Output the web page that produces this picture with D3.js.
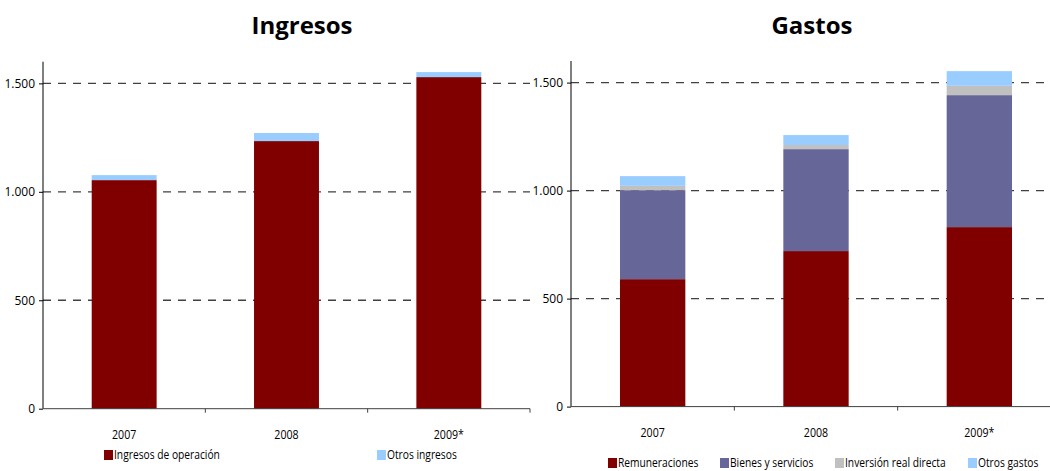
<!DOCTYPE html>
<html>
<head>
<meta charset="utf-8">
<script src="https://cdn.jsdelivr.net/npm/d3@7"></script>
<style>
  html, body { margin: 0; padding: 0; background: #fff; }
  svg { display: block; }
  text { font-family: "Open Sans", "Liberation Sans", sans-serif; fill: #000; }
  .title { font-weight: bold; }
</style>
</head>
<body>
<svg id="chart" width="1050" height="471"></svg>
<script>
// Years shown on both panels
const years = ["2007", "2008", "2009*"];

// Ingresos (income) series
const ingresosOperacion = [1054, 1234, 1529];
const otrosIngresos = [23, 37, 23];

// Gastos (expenditure) series
const remuneraciones = [590, 720, 831];
const bienesServicios = [412, 472, 611];
const inversionReal = [20, 19, 43];
const otrosGastos = [45, 46, 68];

// Shared value axis ticks
const yTicks = [0, 500, 1000, 1500];
const fmt = v => d3.format(",")(v).replace(/,/g, ".");

const svg = d3.select("#chart");

// condensed text: drawn at the anchor point, squeezed horizontally
function narrowText(sel, x, y, str, size, anchor, squeeze) {
  const t = sel.append("g").attr("transform", `translate(${x},${y}) scale(${squeeze},1)`)
    .append("text").attr("font-size", size).attr("text-anchor", anchor).attr("dy", "0.35em").text(str);
  return t;
}

function panel(cfg) {
  const { left, right, top, bottom, title, titleX, series } = cfg;
  const g = svg.append("g");

  const x = d3.scaleBand().domain(years).range([left, right]).paddingInner(0.6).paddingOuter(0.3);
  const y = d3.scaleLinear().domain([0, 1600]).range([bottom, top]);

  // dashed gridlines
  g.append("g").selectAll("line").data(yTicks.filter(d => d > 0)).join("line")
    .attr("x1", left).attr("x2", right)
    .attr("y1", d => y(d)).attr("y2", d => y(d))
    .attr("stroke", "#404040").attr("stroke-width", 1.3)
    .attr("stroke-dasharray", "8,7");

  // stacked bars
  const rows = years.map((yr, i) => {
    const o = { year: yr };
    series.forEach(s => o[s.key] = s.values[i]);
    return o;
  });
  const stack = d3.stack().keys(series.map(s => s.key))(rows);
  g.append("g").selectAll("g").data(stack).join("g")
    .attr("fill", (d, i) => series[i].color)
    .selectAll("rect").data(d => d).join("rect")
    .attr("x", d => x(d.data.year))
    .attr("width", x.bandwidth())
    .attr("y", d => y(d[1]))
    .attr("height", d => y(d[0]) - y(d[1]));

  // value axis
  const ya = d3.axisLeft(y).tickValues(yTicks).tickFormat(fmt).tickSize(4).tickPadding(4);
  const yg = g.append("g").attr("transform", `translate(${left},0)`).call(ya);
  yg.select(".domain").attr("stroke", "#000").attr("d", `M-0,${top}V${bottom}`);
  yg.selectAll(".tick line").attr("stroke", "#000");
  yg.selectAll("text").attr("font-size", 12).attr("font-family", "DejaVu Sans Condensed, DejaVu Sans, sans-serif");

  // category axis with ticks between categories
  g.append("line").attr("x1", left).attr("x2", right).attr("y1", bottom).attr("y2", bottom)
    .attr("stroke", "#404040").attr("stroke-width", 1);
  const step = (right - left) / years.length;
  g.append("g").selectAll("line").data(d3.range(1, years.length + 1)).join("line")
    .attr("x1", i => left + i * step).attr("x2", i => left + i * step)
    .attr("y1", bottom).attr("y2", bottom + 4)
    .attr("stroke", "#404040");
  const cats = g.append("g");
  years.forEach(d => narrowText(cats, x(d) + x.bandwidth() / 2, bottom + 26, d, 12.5, "middle", 0.85));

  // title
  g.append("text").attr("class", "title")
    .attr("x", titleX).attr("y", 34).attr("text-anchor", "middle")
    .attr("font-size", 24).text(title);

  // legend
  const lg = g.append("g").selectAll("g").data(series).join("g")
    .attr("transform", s => `translate(${s.lx},${cfg.legendY})`);
  lg.append("rect").attr("x", 0).attr("y", -5).attr("width", 9).attr("height", 10).attr("fill", s => s.color);
  lg.each(function (s) { narrowText(d3.select(this), 10, 0, s.label, 12.5, "start", 0.82); });
}

panel({
  left: 43, right: 530, top: 61.7, bottom: 408.7,
  title: "Ingresos", titleX: 302, legendY: 455,
  series: [
    { key: "op", label: "Ingresos de operación", values: ingresosOperacion, color: "#800000", lx: 104 },
    { key: "otros", label: "Otros ingresos", values: otrosIngresos, color: "#99ccff", lx: 377 }
  ]
});

panel({
  left: 571, right: 1061, top: 61, bottom: 406.6,
  title: "Gastos", titleX: 812, legendY: 463,
  series: [
    { key: "rem", label: "Remuneraciones", values: remuneraciones, color: "#800000", lx: 608 },
    { key: "bs", label: "Bienes y servicios", values: bienesServicios, color: "#666699", lx: 720 },
    { key: "inv", label: "Inversión real directa", values: inversionReal, color: "#c0c0c0", lx: 835 },
    { key: "og", label: "Otros gastos", values: otrosGastos, color: "#99ccff", lx: 968 }
  ]
});
</script>
</body>
</html>
